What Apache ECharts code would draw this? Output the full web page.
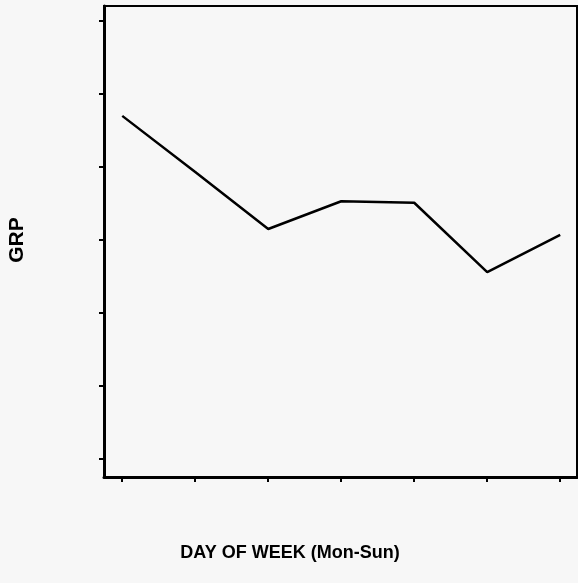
<!DOCTYPE html>
<html><head><meta charset="utf-8">
<script src="https://cdn.jsdelivr.net/npm/echarts@6/dist/echarts.min.js"></script>
<style>html,body{margin:0;padding:0;background:#f7f7f7;}#c{width:578px;height:583px;}</style>
</head><body><div id="c"></div>
<script>
const days = ['Mon','Tue','Wed','Thu','Fri','Sat','Sun'];
const dayIndex = [0,1,2,3,4,5,6];
const grp = [4.70, 3.93, 3.15, 3.53, 3.51, 2.56, 3.07];
const yTicks = [0,1,2,3,4,5,6];
const xTitle = 'DAY OF WEEK (Mon-Sun)';
const yTitle = 'GRP';

const chart = echarts.init(document.getElementById('c'));
chart.setOption({
  backgroundColor: '#f7f7f7',
  animation: false,
  grid: {left:104, top:6, width:473, height:471, show:true, borderColor:'#000', borderWidth:2, backgroundColor:'transparent'},
  xAxis: {type:'value', min:-0.25, max:6.23,
    axisLine:{show:true, onZero:false, lineStyle:{color:'#000', width:3}},
    axisTick:{show:true, length:5, customValues:dayIndex, lineStyle:{color:'#000', width:2}},
    axisLabel:{show:false, customValues:dayIndex}, splitLine:{show:false}},
  yAxis: {type:'value', min:-0.247, max:6.205,
    axisLine:{show:true, onZero:false, lineStyle:{color:'#000', width:3}},
    axisTick:{show:true, length:5, customValues:yTicks, lineStyle:{color:'#000', width:2}},
    axisLabel:{show:false, customValues:yTicks}, splitLine:{show:false}},
  graphic: [
    {type:'text', x:290, y:553, style:{text:xTitle, font:'bold 18px "Liberation Sans", Arial, sans-serif', fill:'#000', align:'center', verticalAlign:'middle'}},
    {type:'text', x:17, y:240, rotation:Math.PI/2, style:{text:yTitle, font:'bold 21px "Liberation Sans", Arial, sans-serif', fill:'#000', align:'center', verticalAlign:'middle'}}
  ],
  series: [{type:'line', data: dayIndex.map((d,i)=>[d, grp[i]]), symbol:'none',
    lineStyle:{color:'#000', width:2.5}}]
});
</script></body></html>
